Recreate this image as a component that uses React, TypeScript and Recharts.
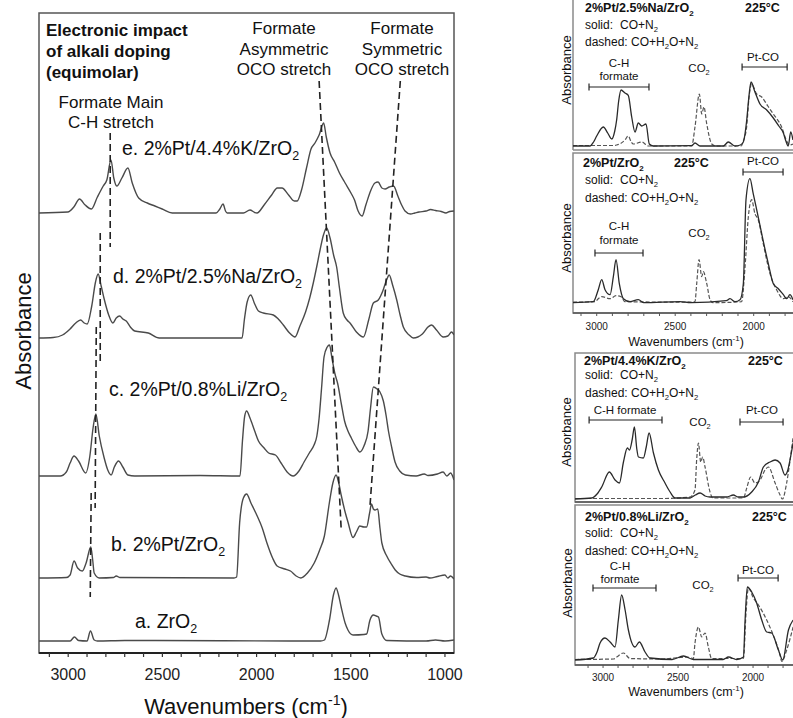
import React from 'react';
import { LineChart, Line, XAxis, YAxis, ReferenceLine, ReferenceArea } from 'recharts';

type Pt = [number, number];

const FONT = '"Liberation Sans", Arial, Helvetica, sans-serif';

// ---------------- Main figure (left) ----------------
const mainTicks = [1000, 1100, 1200, 1300, 1400, 1500, 1600, 1700, 1800, 1900, 2000, 2100, 2200, 2300, 2400, 2500, 2600, 2700, 2800, 2900, 3000, 3100];
const mainTickLabels = [1000, 1500, 2000, 2500, 3000];
const mainDomainX: [number, number] = [952, 3155];
const mainDomainY: [number, number] = [0, 64];

// stacking offsets of the spectra (a..e)
const offA = 1.2, offB = 7.5, offC = 17.7, offD = 31.5, offE = 44.0;

// a. ZrO2
const specA: Pt[] = [[3155,0],[2990,0],[2967,0.4],[2945,0.05],[2900,0],[2882,1.0],[2862,0.1],[2845,0],[2700,0.05],[1660,0],[1640,0.1],[1613,2.1],[1592,4.6],[1578,5.3],[1565,4.6],[1551,3.4],[1530,1.8],[1515,1.1],[1488,0.6],[1430,0.65],[1416,0.7],[1398,2.1],[1380,2.6],[1365,2.5],[1353,2.4],[1335,0.7],[1309,0.05],[1100,0],[1050,0.1],[1000,0],[952,0.1]];
// b. 2%Pt/ZrO2
const specB: Pt[] = [[3155,0],[3010,0.05],[2990,0.3],[2969,1.7],[2950,1.0],[2925,0.7],[2905,1.5],[2880,3.1],[2870,1.8],[2862,0.5],[2835,0],[2760,0.05],[2745,0.2],[2725,0.05],[2120,0],[2106,0.1],[2090,5.5],[2070,8.0],[2053,8.4],[2030,7.5],[1998,6.25],[1970,5.0],[1945,3.5],[1915,2.0],[1891,1.2],[1850,0.9],[1820,0.7],[1790,0.2],[1765,0],[1730,0.5],[1694,1.5],[1665,2.8],[1640,4.2],[1613,7.6],[1595,9.5],[1578,10.3],[1565,9.6],[1551,8.3],[1530,6.6],[1515,5.6],[1488,4.05],[1470,4.6],[1452,5.2],[1430,5.1],[1416,5.1],[1400,6.5],[1390,7.4],[1380,6.9],[1371,6.8],[1357,6.9],[1345,5.0],[1335,3.5],[1309,2.2],[1285,1.4],[1264,0.8],[1240,0.4],[1210,0.2],[1150,0.05],[1100,0.1],[1080,0],[1040,0.15],[1000,0.3],[985,0],[970,0.2],[952,-0.1]];
// c. 2%Pt/0.8%Li/ZrO2
const specC: Pt[] = [[3155,0],[3042,0],[3010,0.4],[2990,1.3],[2969,2.0],[2945,1.5],[2907,0.3],[2885,2.0],[2868,4.8],[2853,6.2],[2835,4.0],[2809,1.8],[2790,0.6],[2772,0.1],[2755,0.9],[2733,1.5],[2710,0.9],[2683,0.1],[2647,0],[2300,0.05],[2088,0],[2075,3.5],[2063,6.0],[2053,6.5],[2035,5.8],[2010,4.5],[1990,3.5],[1960,2.8],[1936,2.3],[1900,2.1],[1870,1.3],[1838,0.4],[1806,0],[1775,0.5],[1748,1.4],[1720,2.3],[1695,3.1],[1680,4.0],[1668,5.8],[1655,8.8],[1642,11.9],[1625,12.9],[1613,13.1],[1600,11.8],[1585,10.3],[1569,9.2],[1550,7.2],[1533,5.5],[1515,4.5],[1497,3.8],[1475,3.0],[1452,2.4],[1430,3.0],[1408,4.5],[1395,6.8],[1380,8.9],[1360,8.7],[1345,8.4],[1327,7.5],[1312,6.0],[1300,4.5],[1282,2.8],[1265,1.4],[1240,0.5],[1210,0.1],[1153,0],[1110,0.2],[1090,0.05],[1040,0.2],[1010,0.4],[990,0],[970,0.3],[952,-0.4]];
// d. 2%Pt/2.5%Na/ZrO2
const specD: Pt[] = [[3155,0],[3080,0.05],[3030,0.3],[2990,0.9],[2960,1.5],[2934,1.8],[2915,1.5],[2899,1.4],[2875,3.2],[2855,5.6],[2841,6.4],[2825,5.2],[2809,3.9],[2785,2.3],[2763,1.5],[2745,2.0],[2727,2.2],[2710,1.9],[2692,1.7],[2670,1.1],[2647,0.7],[2575,0.5],[2517,0],[2077,0],[2065,1.8],[2050,3.6],[2031,4.3],[2010,3.4],[1990,2.7],[1964,2.5],[1911,2.3],[1885,1.9],[1858,1.3],[1825,0.5],[1796,0.1],[1770,1.2],[1740,2.6],[1718,4.0],[1699,5.5],[1680,7.2],[1663,8.8],[1645,10.3],[1628,11.0],[1610,10.0],[1590,8.2],[1575,7.1],[1560,5.0],[1540,2.5],[1520,1.8],[1504,1.5],[1470,0.6],[1433,0.1],[1405,1.8],[1380,3.5],[1354,3.8],[1330,4.7],[1310,5.8],[1296,6.3],[1278,5.3],[1256,3.8],[1238,2.3],[1221,1.1],[1190,0.3],[1168,0],[1120,0.4],[1090,1.1],[1071,1.3],[1045,0.8],[1009,0.1],[985,0.2],[965,0.6],[952,0.3]];
// e. 2%Pt/4.4%K/ZrO2
const specE: Pt[] = [[3155,0],[3002,0.1],[2970,0.6],[2940,1.4],[2910,0.8],[2877,0.4],[2845,1.6],[2814,2.7],[2795,3.3],[2773,5.3],[2758,3.5],[2742,2.7],[2715,3.5],[2683,4.5],[2660,3.0],[2626,1.5],[2580,1.0],[2540,0.7],[2501,0.4],[2448,0],[2215,0],[2195,0.4],[2178,0.9],[2165,0.2],[2156,0],[2070,0],[2035,0.3],[2010,0.05],[1998,0],[1960,0.8],[1920,1.8],[1890,2.5],[1865,2.5],[1830,1.8],[1800,1.2],[1785,1.2],[1760,2.4],[1735,4.5],[1711,6.4],[1690,7.0],[1668,7.8],[1644,9.0],[1630,7.6],[1610,6.0],[1586,5.1],[1560,4.0],[1530,3.0],[1499,2.0],[1480,1.3],[1461,0.2],[1440,-0.3],[1420,0.8],[1395,2.2],[1372,3.0],[1355,3.1],[1335,2.5],[1318,2.4],[1295,2.6],[1273,2.7],[1250,1.7],[1230,0.8],[1212,0.2],[1183,-0.1],[1160,0],[1138,0.1],[1100,0.2],[1076,0.35],[1050,0.25],[1020,0.15],[995,0],[975,0.15],[952,0.2]];

// dashed guide lines (wavenumber, stacked absorbance)
const guideLines: [Pt, Pt][] = [
  [[2777, 52.0], [2777, 40.6]],
  [[2830, 42.0], [2830, 29.0]],
  [[2851, 32.6], [2857, 14.5]],
  [[2878, 16.0], [2883, 5.6]],
  [[1668, 57.2], [1551, 12.4]],
  [[1237, 57.2], [1398, 14.7]],
];

// ---------------- Right-hand panels ----------------
const ticksTop = [1800, 1900, 2000, 2100, 2200, 2300, 2400, 2500, 2600, 2700, 2800, 2900, 3000, 3100];
const ticksBottom = [1700, 1800, 1900, 2000, 2100, 2200, 2300, 2400, 2500, 2600, 2700, 2800, 2900, 3000, 3100];
const panelTickLabels = [2000, 2500, 3000];

// Na panel
const naSolid: Pt[] = [[3151,0],[3043,0],[3020,0.4],[3000,1.0],[2958,1.9],[2930,1.3],[2904,0.7],[2885,1.5],[2873,2.6],[2860,4.5],[2845,5.6],[2820,5.3],[2799,5.07],[2777,2.9],[2756,1.4],[2735,2.3],[2713,2.0],[2686,2.2],[2665,0.2],[2640,0],[2395,0.03],[2374,0.3],[2342,0],[2193,0],[2162,0.4],[2119,0],[2085,0.1],[2066,0.4],[2045,2.5],[2030,5.0],[2017,6.4],[1992,5.4],[1960,4.2],[1917,3.6],[1875,2.8],[1840,2.0],[1811,1.3],[1795,0.5],[1780,0],[1764,1.4],[1750,0.6]];
const naDashed: Pt[] = [[3151,0.05],[2900,0.05],[2873,0.1],[2820,0.6],[2799,1.0],[2780,0.4],[2767,0.2],[2713,0.4],[2671,0],[2395,0],[2374,1.9],[2346,5.2],[2331,3.2],[2317,3.9],[2299,2.2],[2267,0.2],[2240,0],[2080,0],[2066,0.5],[2045,1.9],[2030,4.8],[2013,6.2],[1981,5.2],[1949,4.9],[1910,4.0],[1875,3.2],[1822,1.9],[1790,0.5],[1769,0.1],[1750,0.2]];
// Pt panel
const ptSolid: Pt[] = [[3151,0],[3022,0.1],[2990,1.3],[2968,2.3],[2947,1.3],[2915,0.8],[2894,2.6],[2877,4.3],[2856,1.9],[2830,0.4],[2788,0.1],[2735,0.3],[2700,0],[2470,0.1],[2400,0],[2174,0.2],[2151,0.4],[2119,0.1],[2087,0.3],[2066,1.9],[2049,10.3],[2024,12.4],[2003,10.9],[1981,9.3],[1949,6.9],[1907,3.9],[1875,1.9],[1843,1.4],[1811,0.8],[1790,0.4],[1769,0.8],[1750,0.3]];
const ptDashed: Pt[] = [[3151,0.05],[3010,0.1],[2990,0.4],[2968,0.6],[2915,0.4],[2877,0.7],[2845,0.6],[2820,0.1],[2400,0.05],[2374,0.1],[2363,1.9],[2348,4.3],[2331,2.6],[2321,3.1],[2299,1.9],[2278,0.3],[2260,0],[2077,0.1],[2055,3.6],[2034,8.6],[2013,10.3],[1992,8.9],[1971,8.3],[1939,5.9],[1896,2.9],[1854,1.3],[1811,0.4],[1780,0.6],[1750,0.1]];
// K panel
const kSolid: Pt[] = [[3187,0],[3075,0.1],[3040,0.5],[3009,1.2],[2958,2.7],[2920,1.9],[2891,1.6],[2864,3.7],[2838,5.1],[2824,4.9],[2805,6.0],[2791,7.2],[2775,5.0],[2764,4.2],[2731,4.1],[2712,5.2],[2693,6.6],[2664,4.6],[2631,2.9],[2587,1.6],[2553,0.7],[2520,0.1],[2420,0.1],[2385,0.4],[2353,0.6],[2320,0.3],[2287,0.2],[2176,0.2],[2131,0.4],[2100,0.2],[2064,0.2],[2009,0.7],[1964,1.7],[1931,3.2],[1887,3.7],[1853,3.9],[1820,3.6],[1787,2.4],[1770,2.8],[1750,4.2],[1733,5.6]];
const kDashed: Pt[] = [[3187,0.05],[2600,0.05],[2420,0.2],[2387,0.9],[2376,3.9],[2364,5.6],[2349,3.7],[2336,4.2],[2320,3.2],[2287,0.7],[2269,0.1],[2064,0.1],[2042,1.1],[2016,2.2],[1987,1.6],[1953,1.9],[1920,2.9],[1898,3.2],[1853,1.6],[1820,0.4],[1804,0],[1776,1.6],[1753,3.9],[1733,6.2]];
// Li panel
const liSolid: Pt[] = [[3187,0],[3064,0.2],[3040,0.8],[3020,1.7],[2987,2.2],[2953,1.8],[2920,1.3],[2898,4.0],[2876,6.5],[2853,5.0],[2831,3.0],[2787,1.3],[2758,1.8],[2720,0.8],[2687,0.2],[2540,0.05],[2464,0.4],[2398,0.05],[2200,0.05],[2164,0.3],[2109,0.05],[2064,0.3],[2053,4.0],[2038,7.3],[2009,6.8],[1976,5.7],[1942,4.0],[1909,2.8],[1876,2.7],[1831,1.0],[1802,0],[1764,3.0],[1733,4.0]];
const liDashed: Pt[] = [[3187,0.05],[2930,0.1],[2909,0.3],[2864,0.7],[2820,0.15],[2600,0.1],[2487,0.25],[2442,0.3],[2398,0.15],[2387,1.7],[2364,3.3],[2342,2.3],[2320,2.7],[2298,1.3],[2276,0.15],[2064,0.15],[2047,4.7],[2031,7.2],[1998,6.2],[1964,5.5],[1909,4.0],[1853,2.0],[1820,0.5],[1809,-0.15],[1776,1.0],[1733,3.3]];

type Bracket = { x1: number; x2: number; y: number };

const toRows = (pts: Pt[], off: number) => pts.map(([wn, v]) => ({ wn, y: v + off }));

function Rich({ x, y, text, size, bold = false, anchor = 'start', color = '#111' }: any) {
  const parts = text.split(/([_^]\{[^}]*\})/).filter((s: string) => s.length > 0);
  let cur = 0;
  const spans = parts.map((p: string, i: number) => {
    let target = 0, fs = size, content = p;
    if (p.startsWith('_{')) { target = size * 0.25; fs = size * 0.64; content = p.slice(2, -1); }
    else if (p.startsWith('^{')) { target = -size * 0.4; fs = size * 0.64; content = p.slice(2, -1); }
    const dy = target - cur;
    cur = target;
    return <tspan key={i} dy={dy} fontSize={fs}>{content}</tspan>;
  });
  return (
    <text x={x} y={y + size * 0.35} fontSize={size} fontWeight={bold ? 'bold' : 'normal'} textAnchor={anchor} fill={color}>
      {spans}
    </text>
  );
}

function VText({ x, y, text, size }: any) {
  return (
    <g transform={`translate(${x},${y}) rotate(-90)`}>
      <text x={0} y={size * 0.35} fontSize={size} textAnchor="middle" fill="#111">{text}</text>
    </g>
  );
}

function Panel({ plotLeft, plotTop, plotBottom, domainX, offset, solid, dashed, ticks, axis, brackets, topBorder = true, tickMargin = 7 }: any) {
  const h = (plotBottom - plotTop) / 10;
  const axisH = axis === 'labels' ? 28 : axis === 'ticks' ? 6 : 0;
  const width = 800 - plotLeft + 10;
  const height = 10 + (plotBottom - plotTop) + axisH + 4;
  const capH = 0.35;
  return (
    <div style={{ position: 'absolute', left: plotLeft - 10, top: plotTop - 10 }}>
      <LineChart width={width} height={height} margin={{ top: 10, left: 10, right: 0, bottom: 4 }}>
        <XAxis
          dataKey="wn"
          type="number"
          domain={domainX}
          reversed
          allowDataOverflow
          ticks={ticks}
          interval={0}
          hide={axis === 'none'}
          height={axisH}
          tickSize={3}
          tickMargin={tickMargin}
          axisLine={{ stroke: '#555', strokeWidth: 1.3 }}
          tickLine={{ stroke: '#555' }}
          tick={axis === 'labels' ? { fontSize: 10, fill: '#222', fontFamily: FONT } : false}
          tickFormatter={(v: number) => (panelTickLabels.includes(v) ? String(v) : '')}
        />
        <YAxis hide type="number" domain={[0, h]} allowDataOverflow />
        {topBorder ? (
          <ReferenceArea x1={domainX[0]} x2={domainX[1]} y1={0} y2={h} fill="none" stroke="#8a8a8a" strokeWidth={1.5} ifOverflow="visible" />
        ) : (
          <ReferenceLine segment={[{ x: domainX[1], y: 0 }, { x: domainX[1], y: h }]} stroke="#8a8a8a" strokeWidth={1.5} ifOverflow="visible" />
        )}
        {!topBorder && (
          <ReferenceLine y={0} stroke="#8a8a8a" strokeWidth={1.5} />
        )}
        <Line data={toRows(dashed, offset)} dataKey="y" type="monotone" dot={false} stroke="#555" strokeWidth={1.2} strokeDasharray="4 2" isAnimationActive={false} />
        <Line data={toRows(solid, offset)} dataKey="y" type="monotone" dot={false} stroke="#2a2a2a" strokeWidth={1.3} isAnimationActive={false} />
        {brackets.map((b: Bracket, i: number) => (
          <ReferenceLine key={`b${i}`} segment={[{ x: b.x1, y: b.y }, { x: b.x2, y: b.y }]} stroke="#222" strokeWidth={1.2} />
        ))}
        {brackets.map((b: Bracket, i: number) => (
          <ReferenceLine key={`l${i}`} segment={[{ x: b.x1, y: b.y - capH }, { x: b.x1, y: b.y + capH }]} stroke="#222" strokeWidth={1.2} />
        ))}
        {brackets.map((b: Bracket, i: number) => (
          <ReferenceLine key={`r${i}`} segment={[{ x: b.x2, y: b.y - capH }, { x: b.x2, y: b.y + capH }]} stroke="#222" strokeWidth={1.2} />
        ))}
      </LineChart>
    </div>
  );
}

const naBrackets: Bracket[] = [{ x1: 3049, x2: 2667, y: 6.3 }, { x1: 2074, x2: 1787, y: 8.3 }];
const ptBrackets: Bracket[] = [{ x1: 3011, x2: 2705, y: 6.0 }, { x1: 2068, x2: 1813, y: 14.1 }];
const kBrackets: Bracket[] = [{ x1: 3093, x2: 2607, y: 8.2 }, { x1: 2087, x2: 1800, y: 8.0 }];
const liBrackets: Bracket[] = [{ x1: 3067, x2: 2647, y: 7.7 }, { x1: 2100, x2: 1833, y: 8.7 }];

export default function App() {
  const mainLine = { type: 'monotone' as const, dot: false, stroke: '#4a4a4a', strokeWidth: 1.4, isAnimationActive: false, dataKey: 'y' };
  const sSmall = 12;
  return (
    <div style={{ position: 'absolute', left: 0, top: 0, width: 793, height: 718, overflow: 'hidden', background: '#fff', fontFamily: FONT }}>
      <div style={{ position: 'absolute', left: 0, top: 0 }}>
        <LineChart width={470} height={718} margin={{ top: 13, left: 39, right: 16, bottom: 35 }}>
          <XAxis
            dataKey="wn"
            type="number"
            domain={mainDomainX}
            reversed
            allowDataOverflow
            ticks={mainTicks}
            interval={0}
            height={30}
            tickSize={4}
            tickMargin={12}
            axisLine={{ stroke: '#222', strokeWidth: 2 }}
            tickLine={{ stroke: '#333', strokeWidth: 1.2 }}
            tick={{ fontSize: 16, fill: '#222', fontFamily: FONT }}
            tickFormatter={(v: number) => (mainTickLabels.includes(v) ? String(v) : '')}
          />
          <YAxis hide type="number" domain={mainDomainY} allowDataOverflow />
          <ReferenceArea x1={mainDomainX[0]} x2={mainDomainX[1]} y1={mainDomainY[0]} y2={mainDomainY[1]} fill="none" stroke="#555" strokeWidth={1.5} ifOverflow="visible" />
          <Line {...mainLine} data={toRows(specA, offA)} />
          <Line {...mainLine} data={toRows(specB, offB)} />
          <Line {...mainLine} data={toRows(specC, offC)} />
          <Line {...mainLine} data={toRows(specD, offD)} />
          <Line {...mainLine} data={toRows(specE, offE)} />
          {guideLines.map((g, i) => (
            <ReferenceLine key={i} segment={[{ x: g[0][0], y: g[0][1] }, { x: g[1][0], y: g[1][1] }]} stroke="#222" strokeWidth={1.6} strokeDasharray="7 4" />
          ))}
        </LineChart>
      </div>

      <Panel plotLeft={573} plotTop={-2} plotBottom={150} domainX={[1705, 3151]} offset={0.4} solid={naSolid} dashed={naDashed} ticks={ticksTop} axis="none" brackets={naBrackets} topBorder={false} />
      <Panel plotLeft={573} plotTop={153} plotBottom={313} domainX={[1705, 3151]} offset={1.03} solid={ptSolid} dashed={ptDashed} ticks={ticksTop} axis="labels" brackets={ptBrackets} tickMargin={7} />
      <Panel plotLeft={575} plotTop={353} plotBottom={502} domainX={[1687, 3187]} offset={0.3} solid={kSolid} dashed={kDashed} ticks={ticksBottom} axis="ticks" brackets={kBrackets} />
      <Panel plotLeft={575} plotTop={505} plotBottom={665} domainX={[1687, 3187]} offset={0.5} solid={liSolid} dashed={liDashed} ticks={ticksBottom} axis="labels" brackets={liBrackets} tickMargin={6} />

      <svg width={793} height={718} style={{ position: 'absolute', left: 0, top: 0, pointerEvents: 'none' }}>
        {/* main figure annotations */}
        <Rich x={46} y={30} text="Electronic impact" size={17} bold />
        <Rich x={46} y={51} text="of alkali doping" size={17} bold />
        <Rich x={46} y={72} text="(equimolar)" size={17} bold />
        <Rich x={284} y={28} text="Formate" size={17} anchor="middle" />
        <Rich x={284} y={49} text="Asymmetric" size={17} anchor="middle" />
        <Rich x={284} y={69} text="OCO stretch" size={17} anchor="middle" />
        <Rich x={402} y={28} text="Formate" size={17} anchor="middle" />
        <Rich x={402} y={49} text="Symmetric" size={17} anchor="middle" />
        <Rich x={402} y={69} text="OCO stretch" size={17} anchor="middle" />
        <Rich x={111} y={102} text="Formate Main" size={17} anchor="middle" />
        <Rich x={111} y={122} text="C-H stretch" size={17} anchor="middle" />
        <Rich x={122} y={148} text="e. 2%Pt/4.4%K/ZrO_{2}" size={19.5} />
        <Rich x={113} y={276} text="d. 2%Pt/2.5%Na/ZrO_{2}" size={19.5} />
        <Rich x={109} y={389} text="c. 2%Pt/0.8%Li/ZrO_{2}" size={19.5} />
        <Rich x={111} y={544} text="b. 2%Pt/ZrO_{2}" size={19.5} />
        <Rich x={135} y={621} text="a. ZrO_{2}" size={19.5} />
        <Rich x={246} y={706} text="Wavenumbers (cm^{-1})" size={22} anchor="middle" />
        <VText x={23} y={331} text="Absorbance" size={22} />

        {/* Na panel */}
        <Rich x={585} y={8} text="2%Pt/2.5%Na/ZrO_{2}" size={12.5} bold />
        <Rich x={745} y={8} text="225°C" size={12.5} bold />
        <Rich x={585} y={25} text="solid:" size={sSmall} />
        <Rich x={620} y={25} text="CO+N_{2}" size={sSmall} />
        <Rich x={585} y={42} text="dashed: CO+H_{2}O+N_{2}" size={sSmall} />
        <Rich x={619} y={63} text="C-H" size={11.5} anchor="middle" />
        <Rich x={619} y={76} text="formate" size={11.5} anchor="middle" />
        <Rich x={699} y={68} text="CO_{2}" size={11.5} anchor="middle" />
        <Rich x={763} y={57} text="Pt-CO" size={11.5} anchor="middle" />
        <VText x={566} y={70} text="Absorbance" size={13} />

        {/* Pt panel */}
        <Rich x={583} y={163} text="2%Pt/ZrO_{2}" size={12.5} bold />
        <Rich x={674} y={163} text="225°C" size={12.5} bold />
        <Rich x={585} y={180} text="solid:" size={sSmall} />
        <Rich x={620} y={180} text="CO+N_{2}" size={sSmall} />
        <Rich x={585} y={198} text="dashed: CO+H_{2}O+N_{2}" size={sSmall} />
        <Rich x={619} y={226} text="C-H" size={11.5} anchor="middle" />
        <Rich x={619} y={240} text="formate" size={11.5} anchor="middle" />
        <Rich x={699} y={233} text="CO_{2}" size={11.5} anchor="middle" />
        <Rich x={763} y={161} text="Pt-CO" size={11.5} anchor="middle" />
        <VText x={566} y={238} text="Absorbance" size={13} />
        <Rich x={686} y={342} text="Wavenumbers (cm^{-1})" size={12.5} anchor="middle" />

        {/* K panel */}
        <Rich x={584} y={361} text="2%Pt/4.4%K/ZrO_{2}" size={12.5} bold />
        <Rich x={748} y={361} text="225°C" size={12.5} bold />
        <Rich x={585} y={375} text="solid:" size={sSmall} />
        <Rich x={620} y={375} text="CO+N_{2}" size={sSmall} />
        <Rich x={585} y={393} text="dashed: CO+H_{2}O+N_{2}" size={sSmall} />
        <Rich x={625} y={410} text="C-H formate" size={11.5} anchor="middle" />
        <Rich x={700} y={422} text="CO_{2}" size={11.5} anchor="middle" />
        <Rich x={762} y={410} text="Pt-CO" size={11.5} anchor="middle" />
        <VText x={566} y={432} text="Absorbance" size={13} />

        {/* Li panel */}
        <Rich x={585} y={517} text="2%Pt/0.8%Li/ZrO_{2}" size={12.5} bold />
        <Rich x={752} y={517} text="225°C" size={12.5} bold />
        <Rich x={585} y={533} text="solid:" size={sSmall} />
        <Rich x={620} y={533} text="CO+N_{2}" size={sSmall} />
        <Rich x={585} y={551} text="dashed: CO+H_{2}O+N_{2}" size={sSmall} />
        <Rich x={620} y={566} text="C-H" size={11.5} anchor="middle" />
        <Rich x={620} y={579} text="formate" size={11.5} anchor="middle" />
        <Rich x={703} y={585} text="CO_{2}" size={11.5} anchor="middle" />
        <Rich x={758} y={570} text="Pt-CO" size={11.5} anchor="middle" />
        <VText x={567} y={583} text="Absorbance" size={13} />
        <Rich x={686} y={692} text="Wavenumbers (cm^{-1})" size={12.5} anchor="middle" />
      </svg>
    </div>
  );
}
